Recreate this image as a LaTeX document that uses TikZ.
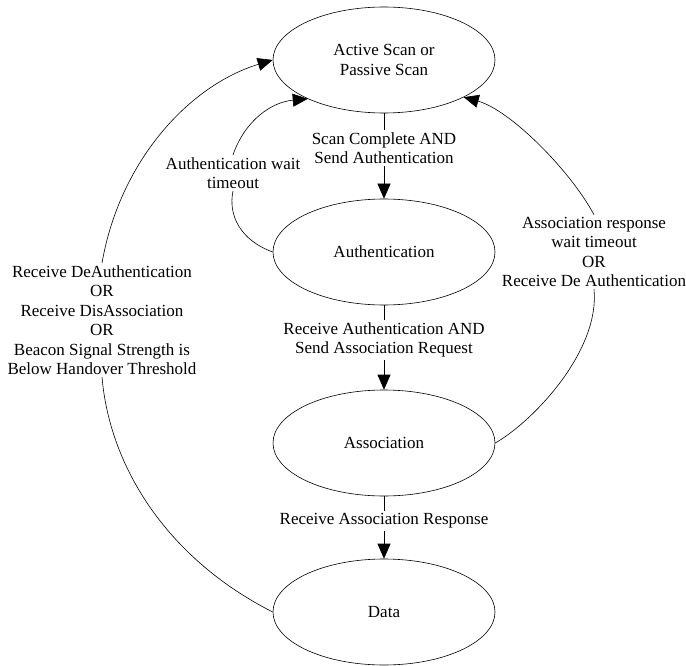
\documentclass[tikz,border=0pt]{standalone}
\usepackage{fontspec}
\setmainfont{Liberation Serif}
\usetikzlibrary{shapes.geometric,arrows.meta}
\tikzset{
  state/.style={draw,ellipse,minimum width=222pt,minimum height=106pt,inner sep=0pt,align=center},
  lbl/.style={align=center,inner sep=2pt},
  tip/.style={-{Triangle[length=15pt,width=13pt]}}
}
\begin{document}
\begin{tikzpicture}[x=1pt,y=-1pt,line width=0.6pt,font=\fontsize{17}{19.5}\selectfont]
    \useasboundingbox (0,0) rectangle (686,666);
    \node[state] (scan) at (384,60) {Active Scan or\\Passive Scan};
    \node[state] (auth) at (384,252) {Authentication};
    \node[state] (assoc) at (384,443) {Association};
    \node[state] (data) at (384,612) {Data};
    \node[lbl] (lblscan) at (384,148) {Scan Complete AND\\Send Authentication};
    \node[lbl] (lblauth) at (384,340) {Receive Authentication AND\\Send Association Request};
    \node[lbl] (lblresp) at (384,521) {Receive Association Response};
    \node[lbl] (lblwait) at (233,173) {Authentication wait\\timeout};
    \node[lbl] (lblassoc) at (594,252) {Association response\\wait timeout\\OR\\Receive De Authentication};
    \node[lbl] (lbldeauth) at (102,320) {Receive DeAuthentication\\OR\\Receive DisAssociation\\OR\\Beacon Signal Strength is\\Below Handover Threshold};
    \foreach \a/\l/\b in {scan/lblscan/auth,auth/lblauth/assoc,assoc/lblresp/data}
    {
    \draw (\a) -- (\l);
    \draw[tip] (\l) -- (\b);
    }
    \draw (auth.west) .. controls (240,240) and (228,215) .. (lblwait.south);
    \draw[tip] (lblwait.north) .. controls (245,120) and (272,102) .. (scan.207);
    \draw (data.west) .. controls (170,560) and (110,470) .. (lbldeauth.south);
    \draw[tip] (lbldeauth.north) .. controls (120,160) and (190,85) .. (scan.west);
    \draw (assoc.east) .. controls (535,420) and (600,350) .. (lblassoc.south);
    \draw[tip] (lblassoc.north) .. controls (570,170) and (510,110) .. (scan.335);
\end{tikzpicture}
\end{document}
